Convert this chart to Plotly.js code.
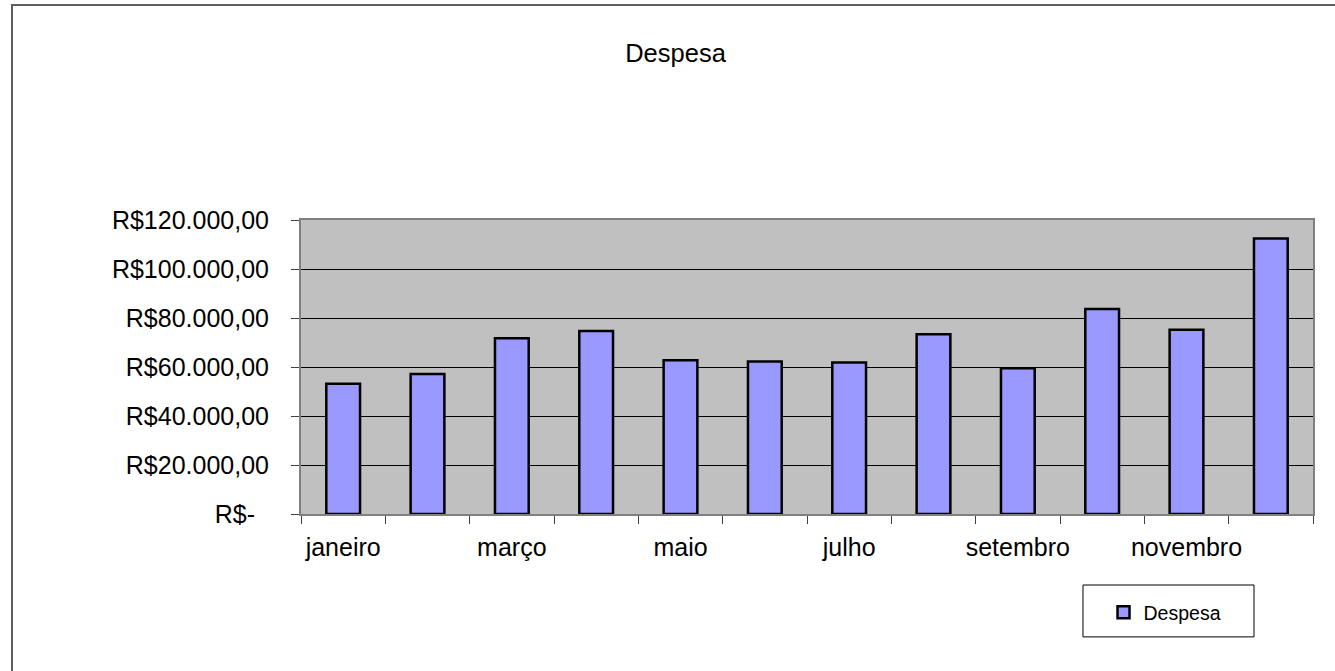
<!DOCTYPE html>
<html>
<head>
<meta charset="utf-8">
<script src="https://cdn.plot.ly/plotly-3.0.1.min.js"></script>
<style>
  html, body { margin: 0; padding: 0; background: #ffffff; }
  #wrap { position: relative; width: 1335px; height: 671px; overflow: hidden; }
  #chart { position: absolute; left: 0; top: 0; width: 1335px; height: 671px; }
  #frame { position: absolute; left: 11px; top: 4px; width: 1400px; height: 800px;
           border-left: 2px solid #5f5f5f; border-top: 2px solid #5f5f5f; pointer-events: none; }
</style>
</head>
<body>
<div id="wrap">
  <div id="chart"></div>
  <div id="frame"></div>
</div>
<script>
// Data
const months = ["janeiro", "fevereiro", "março", "abril", "maio", "junho",
                "julho", "agosto", "setembro", "outubro", "novembro", "dezembro"];
const despesa = [53200, 57100, 71700, 74700, 62800, 62200,
                 61800, 73400, 59500, 83700, 75200, 112500];
const xTickLabels = ["janeiro", "", "março", "", "maio", "",
                     "julho", "", "setembro", "", "novembro", ""];
const yTickVals = [0, 20000, 40000, 60000, 80000, 100000, 120000];
const yTickText = ["R$-\u00a0\u00a0", "R$20.000,00", "R$40.000,00", "R$60.000,00",
                   "R$80.000,00", "R$100.000,00", "R$120.000,00"];

const trace = {
  type: "bar",
  name: "Despesa",
  x: months,
  y: despesa,
  marker: { color: "#9999FF", line: { color: "#000000", width: 2.5 } },
  hoverinfo: "x+y"
};

const font = { family: "Liberation Sans, Arial, sans-serif", color: "#000000" };

const layout = {
  width: 1335,
  height: 671,
  margin: { l: 301, r: 22, t: 220, b: 157, pad: 0 },
  paper_bgcolor: "#ffffff",
  plot_bgcolor: "#C0C0C0",
  font: Object.assign({ size: 25 }, font),
  title: {
    text: "Despesa",
    font: Object.assign({ size: 25.5 }, font),
    x: 0.506, xref: "container", xanchor: "center",
    y: 0.921, yref: "container", yanchor: "middle"
  },
  bargap: 0.6,
  showlegend: true,
  legend: {
    x: 0.793, xanchor: "left",
    y: -0.335, yanchor: "middle",
    bgcolor: "rgba(0,0,0,0)",
    borderwidth: 0,
    font: Object.assign({ size: 19.5 }, font)
  },
  xaxis: {
    type: "category",
    tickmode: "array",
    tickvals: months,
    ticktext: xTickLabels,
    tickson: "boundaries",
    tickangle: 0,
    ticks: "outside",
    ticklen: 8,
    tickcolor: "#404040",
    tickwidth: 1,
    showline: true,
    linecolor: "#808080",
    linewidth: 2,
    mirror: true,
    showgrid: false,
    zeroline: false,
    automargin: false,
    ticklabelstandoff: 10,
    tickfont: Object.assign({ size: 25 }, font),
    fixedrange: true
  },
  yaxis: {
    range: [0, 120000],
    tickmode: "array",
    tickvals: yTickVals,
    ticktext: yTickText,
    ticks: "outside",
    ticklen: 8,
    tickcolor: "#404040",
    tickwidth: 1,
    showline: true,
    linecolor: "#808080",
    linewidth: 2,
    mirror: true,
    showgrid: true,
    gridcolor: "#000000",
    gridwidth: 1,
    zeroline: false,
    automargin: false,
    ticklabelstandoff: 17,
    tickfont: Object.assign({ size: 25 }, font),
    fixedrange: true
  },
  shapes: [{
    type: "rect", xref: "paper", yref: "paper",
    x0: 0.7727, x1: 0.9417, y0: -0.418, y1: -0.2415,
    line: { color: "#000000", width: 1 },
    fillcolor: "rgba(0,0,0,0)",
    layer: "below"
  }]
};

Plotly.newPlot("chart", [trace], layout, { displayModeBar: false });
</script>
</body>
</html>
